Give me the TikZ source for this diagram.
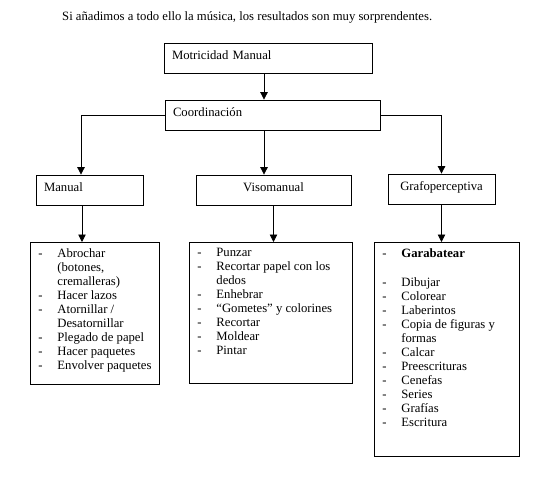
\documentclass[tikz,border=0pt]{standalone}
\usepackage{fontspec}
\setmainfont{Liberation Serif}
\usetikzlibrary{arrows.meta}

\newcommand{\punto}[1]{\mbox{\makebox[19pt][l]{-}#1}\par}
\newcommand{\sigue}[1]{\mbox{\hspace*{19pt}#1}\par}
\newcommand{\lista}[3]{\parbox[t][#2][t]{#1}{\raggedright #3}}

\tikzset{
  caja/.style={draw, line width=0.8pt, minimum height=30pt, inner xsep=8pt, inner ysep=0pt,
    text height=9pt, text depth=6pt},
  cajalista/.style={draw, line width=0.8pt, anchor=north west, inner xsep=8pt, inner ysep=6pt},
  flecha/.style={line width=0.8pt, -{Triangle[width=7.5pt,length=7.5pt]}},
}

\begin{document}
\begin{tikzpicture}[x=1pt, y=-1pt, font=\fontsize{12.7}{14}\selectfont]
  \useasboundingbox (0,0) rectangle (545,481);
  \node[anchor=west, inner sep=0pt] (titulo) at (62,17)
    {Si añadimos a todo ello la música, los resultados son muy sorprendentes.};

  % niveles superiores
  \node[caja, text width=192pt, align=left] (motri) at (268,58) {Motricidad Manual};
  \node[caja, text width=199pt, align=left] (coord) at (272.5,115) {Coordinación};

  % segundo nivel
  \node[caja, text width=91pt, align=left] (manual) at (89.5,190) {Manual};
  \node[caja, text width=139pt, align=center] (viso) at (273.5,190) {Visomanual};
  \node[caja, text width=91pt, align=center] (grafo) at (441.5,189) {Grafoperceptiva};

  % listas de actividades
  \node[cajalista] (lmanual) at (30,242) {\lista{113pt}{130pt}{%
    \punto{Abrochar}
    \sigue{(botones,}
    \sigue{cremalleras)}
    \punto{Hacer lazos}
    \punto{Atornillar /}
    \sigue{Desatornillar}
    \punto{Plegado de papel}
    \punto{Hacer paquetes}
    \punto{Envolver paquetes}}};
  \node[cajalista] (lviso) at (189,242) {\lista{147pt}{129pt}{%
    \punto{Punzar}
    \punto{Recortar papel con los}
    \sigue{dedos}
    \punto{Enhebrar}
    \punto{``Gometes'' y colorines}
    \punto{Recortar}
    \punto{Moldear}
    \punto{Pintar}}};
  \node[cajalista] (lgrafo) at (374,242) {\lista{129pt}{202pt}{%
    \punto{\textbf{Garabatear}}
    \vspace{15pt}
    \punto{Dibujar}
    \punto{Colorear}
    \punto{Laberintos}
    \punto{Copia de figuras y}
    \sigue{formas}
    \punto{Calcar}
    \punto{Preescrituras}
    \punto{Cenefas}
    \punto{Series}
    \punto{Grafías}
    \punto{Escritura}}};

  % conectores
  \draw[flecha] ([xshift=-4pt]motri.south) -- ([xshift=-4pt]motri.south |- coord.north);
  \draw[flecha] (coord.west) -| ([xshift=-8.5pt]manual.north);
  \draw[flecha] ([xshift=-8.5pt]coord.south) -- ([xshift=-8.5pt]coord.south |- viso.north);
  \draw[flecha] (coord.east) -| (grafo.north);
  \draw[flecha] ([xshift=-7.5pt]manual.south) -- ([xshift=-7.5pt]manual.south |- lmanual.north);
  \draw[flecha] (viso.south) -- (viso.south |- lviso.north);
  \draw[flecha] (grafo.south) -- (grafo.south |- lgrafo.north);
\end{tikzpicture}
\end{document}
